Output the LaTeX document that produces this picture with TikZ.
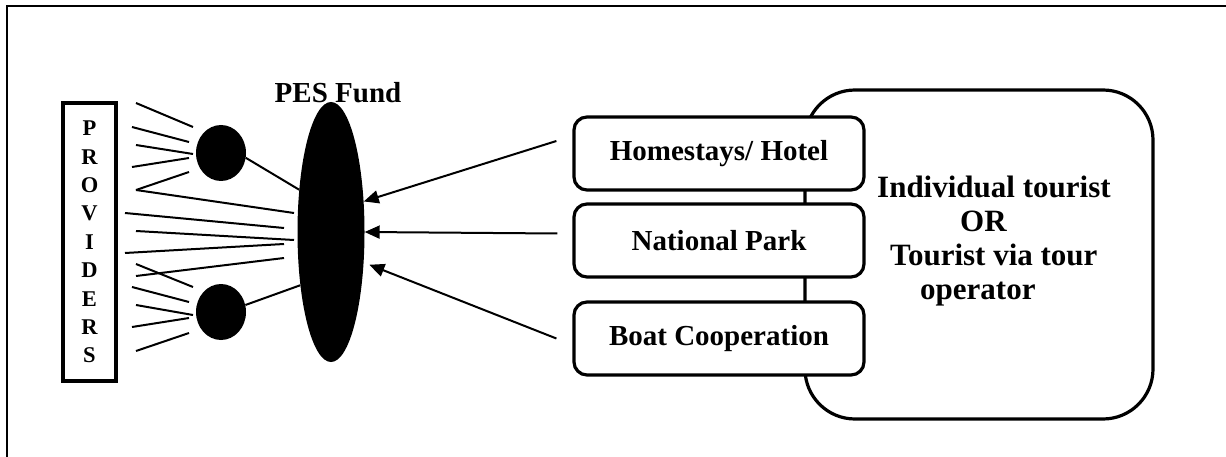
\documentclass[tikz,border=0pt]{standalone}
\usepackage{fontspec}
\setmainfont{Liberation Serif}
\usetikzlibrary{shapes.geometric,arrows.meta,calc}
\begin{document}
\begin{tikzpicture}[x=1pt,y=-1pt,
  thinline/.style={line width=2pt},
  boxline/.style={line width=3.2pt},
  blob/.style={ellipse,fill=black,draw=none,inner sep=0pt},
  servicebox/.style={boxline,draw,fill=white,rounded corners=13pt,
    minimum width=290pt,minimum height=73pt,inner sep=0pt,
    font=\fontsize{29}{34}\selectfont\bfseries},
  payarrow/.style={thinline,-{Triangle[length=15pt,width=13pt]}}]
\useasboundingbox (0,0) rectangle (1226,457);

% open frame (top and left sides)
\draw[line width=2.8pt] (7,457) -- (7,6) -- (1226,6);

% providers column
\node[boxline,draw,minimum width=53pt,minimum height=278pt,inner sep=0pt,
  align=center,font=\fontsize{22.5}{28.4}\selectfont\bfseries]
  (prov) at (89.5,242) {P\\R\\O\\V\\I\\D\\E\\R\\S};

% intermediary groups and the fund
\node[blob,minimum width=50pt,minimum height=56pt] (c1) at (221,153) {};
\node[blob,minimum width=50pt,minimum height=56pt] (c2) at (221,312) {};
\node[blob,minimum width=67pt,minimum height=260pt] (fund) at (331,232) {};
\node[anchor=base,font=\fontsize{29}{34}\selectfont\bfseries] (fundlbl) at (338,103) {PES Fund};

% provider strokes
\foreach \ax/\ay/\bx/\by in {
  136/103/193/127, 132/127/189/142, 136/145/193/154, 132/167/189/158, 136/190/189/172,
  136/190/294/213, 125/213/284/228, 136/231/294/240, 125/253/284/244, 136/276/284/258,
  136/264/193/287, 132/287/189/302, 136/305/193/315, 132/327/189/318, 136/351/189/333}
  \draw[thinline] (\ax,\ay) -- (\bx,\by);

\draw[thinline] (c1.-11) -- (fund.127);
\draw[thinline] (c2.16) -- (fund.-120);

% tourist side
\node[boxline,draw,rounded corners=50pt,minimum width=348pt,minimum height=329pt]
  (tourist) at (979,254.5) {};
\node[servicebox] (home) at (719,153.5) {Homestays/ Hotel};
\node[servicebox] (park) at (719,240.5) {National Park};
\node[servicebox] (boat) at (719,338.5) {Boat Cooperation};

\node[anchor=north west,inner sep=0pt,align=left,
  font=\fontsize{31}{34}\selectfont\bfseries] (tourtxt) at (877,175.5)
  {Individual tourist\\\hspace*{83pt}OR\\\hspace*{13pt}Tourist via tour\\\hspace*{43pt}operator};

% payments into the fund
\draw[payarrow] ($(home.west)+(-16,-12.5)$) -- (fund.43);
\draw[payarrow] ($(park.west)+(-15,-7)$) -- (fund.east);
\draw[payarrow,shorten >=6pt] ($(boat.west)+(-16,0)$) -- (fund.-43);
\end{tikzpicture}
\end{document}
